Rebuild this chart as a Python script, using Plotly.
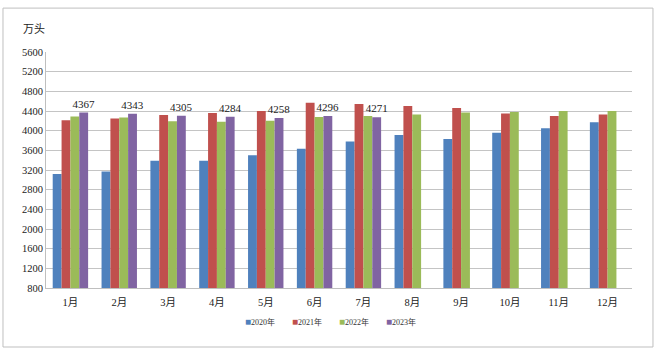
import plotly.graph_objects as go

months = ["1月", "2月", "3月", "4月", "5月", "6月", "7月", "8月", "9月", "10月", "11月", "12月"]
series_names = ["2020年", "2021年", "2022年", "2023年"]
v2020 = [3120, 3170, 3390, 3390, 3500, 3630, 3780, 3910, 3830, 3960, 4050, 4170]
v2021 = [4210, 4250, 4320, 4360, 4400, 4570, 4540, 4500, 4460, 4350, 4300, 4330]
v2022 = [4290, 4270, 4190, 4180, 4200, 4280, 4300, 4330, 4370, 4380, 4400, 4400]
v2023 = [4367, 4343, 4305, 4284, 4258, 4296, 4271, None, None, None, None, None]
y_ticks = list(range(800, 5601, 400))

colors = ["#4F81BD", "#C0504D", "#9BBB59", "#8064A2"]
serif = "Liberation Serif"
cjk = "Liberation Serif, Noto Sans CJK SC"

fig = go.Figure()
all_vals = [v2020, v2021, v2022, v2023]
for i, (name, vals) in enumerate(zip(series_names, all_vals)):
    kw = {}
    if i == 3:
        kw = dict(text=[("" if v is None else str(v)) for v in vals],
                  textposition="outside", constraintext="none", cliponaxis=False,
                  textfont=dict(family=serif, size=11, color="#222"))
    fig.add_trace(go.Bar(x=months, y=vals, name=name, marker_color=colors[i],
                         marker_line_width=0, showlegend=False, **kw))

fig.update_layout(
    width=656, height=351,
    margin=dict(l=46, r=24, t=52, b=63),
    paper_bgcolor="white", plot_bgcolor="white",
    barmode="group", bargap=0.275, bargroupgap=0,
    font=dict(family=serif, size=10, color="#222"),
)
fig.update_yaxes(range=[800, 5600], tickvals=y_ticks, showgrid=True, gridcolor="#C4C4C4",
                 gridwidth=1.2, showline=True, linecolor="#BFBFBF", ticks="", zeroline=False,
                 tickfont=dict(family=serif, size=10.5, color="#222"))
fig.update_xaxes(showline=True, linecolor="#BFBFBF", linewidth=1.2, ticks="", ticklabelstandoff=4,
                 tickfont=dict(family=cjk, size=10.5, color="#222"))

# frame
fig.add_shape(type="rect", xref="paper", yref="paper", x0=-0.0734, x1=1.0358, y0=-0.25, y1=1.186,
              line=dict(color="#BFBFBF", width=1), layer="below")

fig.add_annotation(text="万头", xref="paper", yref="paper", x=-0.02, y=1.096, showarrow=False,
                   xanchor="center", yanchor="middle",
                   font=dict(family=cjk, size=11, color="#222"))

# legend
leg_x = [0.337, 0.417, 0.497, 0.576]
for name, c, lx in zip(series_names, colors, leg_x):
    fig.add_annotation(text=f"<span style='color:{c};font-size:10px'>■</span>{name}",
                       xref="paper", yref="paper",
                       x=lx, y=-0.141, xanchor="left", yanchor="middle", showarrow=False,
                       font=dict(family=cjk, size=8, color="#333"))

fig.write_html("out.html")
